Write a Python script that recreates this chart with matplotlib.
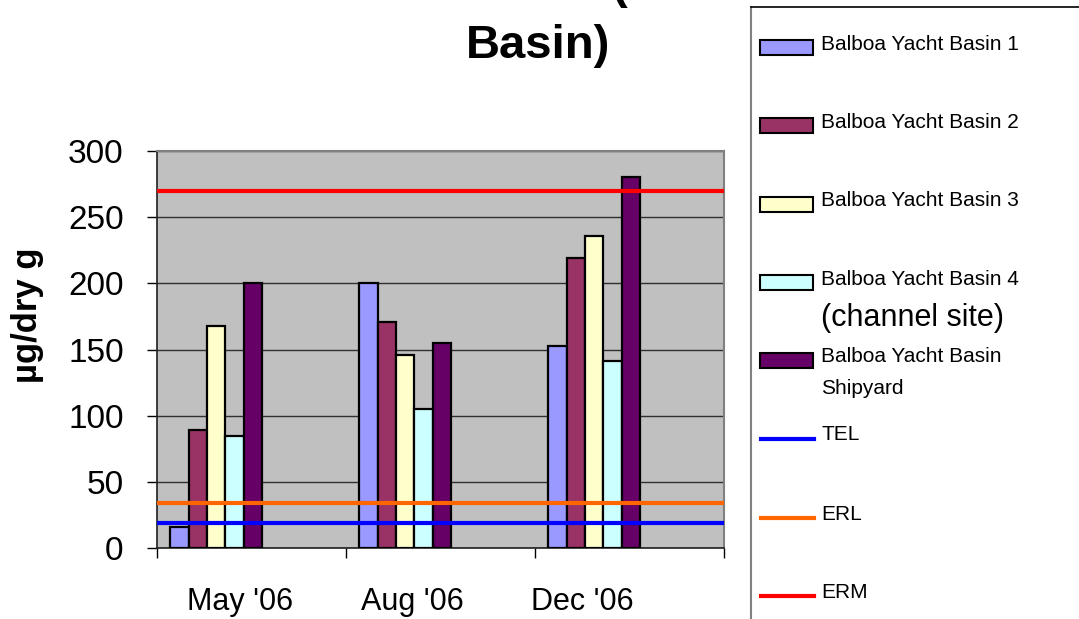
import numpy as np
import matplotlib
matplotlib.use("Agg")
import matplotlib.pyplot as plt
from matplotlib.patches import Rectangle
from matplotlib.lines import Line2D

plt.rcParams['font.family'] = ['Liberation Sans', 'DejaVu Sans']

# data
months = ["May '06", "Aug '06", "Dec '06"]
series_names = ["Balboa Yacht Basin 1", "Balboa Yacht Basin 2", "Balboa Yacht Basin 3",
                "Balboa Yacht Basin 4", "Balboa Yacht Basin Shipyard"]
basin1 = [16, 200, 153]
basin2 = [89, 171, 219]
basin3 = [168, 146, 236]
basin4 = [85, 105, 141]
shipyard = [200, 155, 280]
guide_names = ["TEL", "ERL", "ERM"]
guide_values = [18.7, 34, 270]

bar_colors = ['#9999FF', '#993366', '#FFFFCC', '#CCFFFF', '#660066']
guide_colors = ['#0000FF', '#FF6600', '#FF0000']

W, H = 1079, 619
fig = plt.figure(figsize=(W / 100, H / 100), dpi=100)


def fx(x):
    return x / W


def fy(y):
    return 1 - y / H


ax = fig.add_axes([fx(157), fy(548), (724 - 157) / W, (548 - 151) / H])
ax.set_facecolor('#C0C0C0')

x = np.arange(len(months))
width = 0.097
start = -0.5 + 0.07
for k, vals in enumerate([basin1, basin2, basin3, basin4, shipyard]):
    ax.bar(x + start + width * (k + 0.5), vals, width, color=bar_colors[k],
           edgecolor='black', linewidth=1.6, zorder=3)

for v, c in zip(guide_values, guide_colors):
    ax.axhline(v, color=c, linewidth=3, zorder=4)

ax.set_xlim(-0.5, 2.5)
ax.set_ylim(0, 300)
ax.set_yticks(np.arange(0, 301, 50))
ax.yaxis.grid(True, color='#303030', linewidth=1, zorder=1)
ax.set_axisbelow(True)
ax.tick_params(axis='y', labelsize=24, length=7, width=1, pad=17, direction='out')

# category separators as minor ticks, labels on majors
ax.set_xticks([-0.5, 0.5, 1.5, 2.5], minor=True)
label_pos = [-0.06, 0.85, 1.75]
ax.set_xticks(label_pos)
ax.set_xticklabels(months)
ax.tick_params(axis='x', which='major', length=0, labelsize=22, pad=28)
ax.tick_params(axis='x', which='minor', length=7, width=1, direction='out')

for s in ['top', 'right']:
    ax.spines[s].set_color('#808080')
    ax.spines[s].set_linewidth(1.5)
for s in ['left', 'bottom']:
    ax.spines[s].set_color('#202020')
    ax.spines[s].set_linewidth(1.2)

fig.text(fx(28), fy(315), 'µg/dry g', rotation=90, ha='center', va='center',
         fontsize=25, fontweight='bold')

# title (first line is cut off at the top edge, as in the source)
fig.text(fx(620), fy(-2), '(', ha='center', va='baseline', fontsize=34, fontweight='bold')
fig.text(fx(538), fy(58), 'Basin)', ha='center', va='baseline', fontsize=34, fontweight='bold')

# legend box
fig.add_artist(Line2D([fx(751), fx(751)], [fy(7), 0], color='#808080', linewidth=1.5))
fig.add_artist(Line2D([fx(751), 1], [fy(7), fy(7)], color='#000000', linewidth=1.2))

patch_y = [47, 125, 204, 282, 360]
for name, c, yy in zip(series_names, bar_colors, patch_y):
    fig.add_artist(Rectangle((fx(760), fy(yy + 7.5)), 53 / W, 15 / H, facecolor=c,
                             edgecolor='black', linewidth=1.5))
    if name.endswith('Shipyard'):
        fig.text(fx(821), fy(357), 'Balboa Yacht Basin', va='center', fontsize=15)
        fig.text(fx(821), fy(389), 'Shipyard', va='center', fontsize=15)
    else:
        fig.text(fx(821), fy(yy - 3), name, va='center', fontsize=15)
fig.text(fx(821), fy(318), '(channel site)', va='center', fontsize=22)

line_y = [439, 518, 596]
for name, c, yy in zip(guide_names, guide_colors, line_y):
    fig.add_artist(Line2D([fx(761), fx(814)], [fy(yy), fy(yy)], color=c, linewidth=3))
    fig.text(fx(821), fy(yy - 4), name, va='center', fontsize=15)

fig.savefig('out.png', dpi=100)
